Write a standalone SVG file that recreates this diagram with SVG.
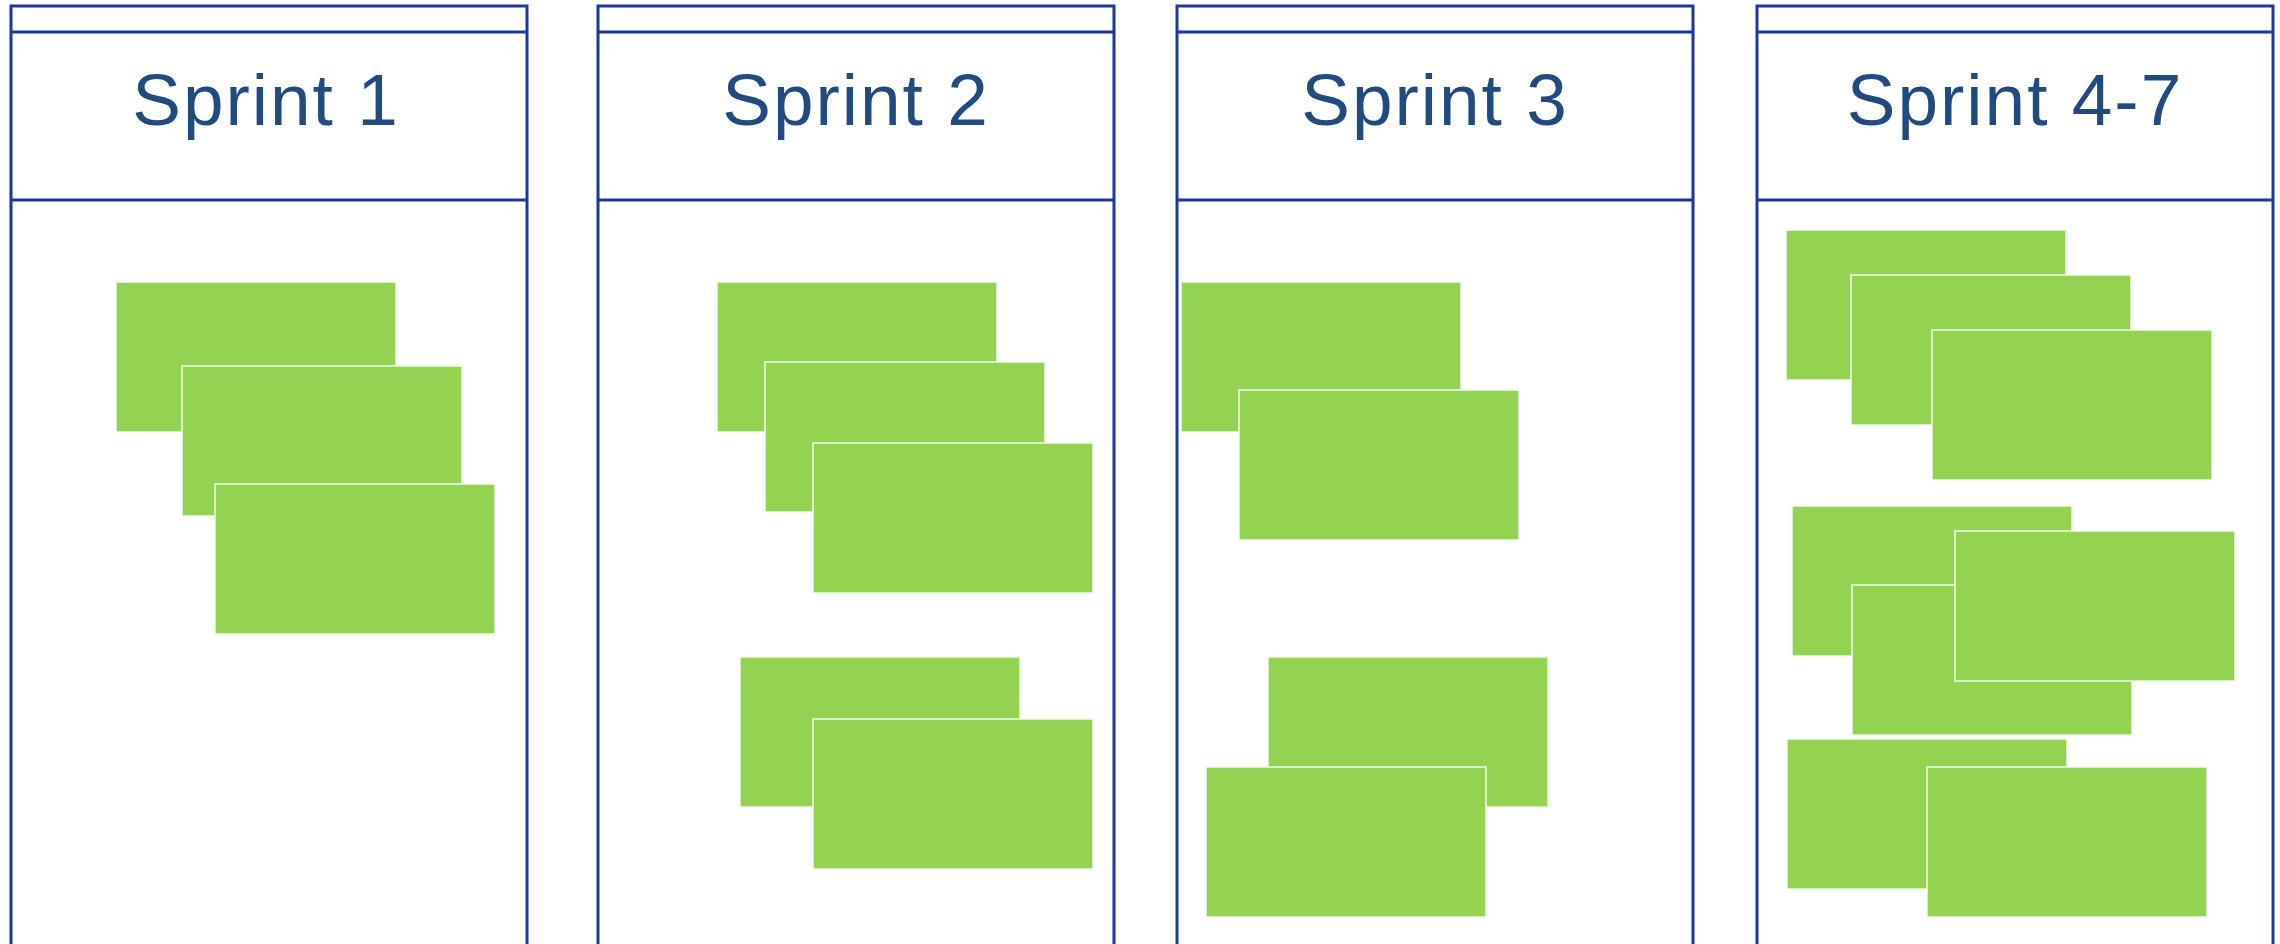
<svg xmlns="http://www.w3.org/2000/svg" width="2280" height="944" viewBox="0 0 2280 944">
<style>
.col{fill:none;stroke:#1d379e;stroke-width:3}
.title{font-family:"Liberation Sans",Arial,sans-serif;font-size:73px;fill:#214a7e;text-anchor:middle;letter-spacing:2px}
.note{fill:#94d352;stroke:#f2faea;stroke-width:1.5}
</style>
<rect width="2280" height="944" fill="#ffffff"/>
<g id="col1">
<path class="col" d="M11,948 V6 H527 V948 M11,32 H527 M11,200 H527"/>
<text class="title" x="266" y="125">Sprint 1</text>
</g>
<g id="col2">
<path class="col" d="M598,948 V6 H1114 V948 M598,32 H1114 M598,200 H1114"/>
<text class="title" x="856" y="125">Sprint 2</text>
</g>
<g id="col3">
<path class="col" d="M1177,948 V6 H1693 V948 M1177,32 H1693 M1177,200 H1693"/>
<text class="title" x="1435" y="125">Sprint 3</text>
</g>
<g id="col4">
<path class="col" d="M1757,948 V6 H2273 V948 M1757,32 H2273 M1757,200 H2273"/>
<text class="title" x="2015" y="125">Sprint 4-7</text>
</g>
<g id="notes1">
<rect class="note" x="116" y="282" width="280" height="150"/>
<rect class="note" x="182" y="366" width="280" height="150"/>
<rect class="note" x="215" y="484" width="280" height="150"/>
</g>
<g id="notes2">
<rect class="note" x="717" y="282" width="280" height="150"/>
<rect class="note" x="765" y="362" width="280" height="150"/>
<rect class="note" x="813" y="443" width="280" height="150"/>
<rect class="note" x="740" y="657" width="280" height="150"/>
<rect class="note" x="813" y="719" width="280" height="150"/>
</g>
<g id="notes3">
<rect class="note" x="1181" y="282" width="280" height="150"/>
<rect class="note" x="1239" y="390" width="280" height="150"/>
<rect class="note" x="1268" y="657" width="280" height="150"/>
<rect class="note" x="1206" y="767" width="280" height="150"/>
</g>
<g id="notes4">
<rect class="note" x="1786" y="230" width="280" height="150"/>
<rect class="note" x="1851" y="275" width="280" height="150"/>
<rect class="note" x="1932" y="330" width="280" height="150"/>
<rect class="note" x="1792" y="506" width="280" height="150"/>
<rect class="note" x="1852" y="585" width="280" height="150"/>
<rect class="note" x="1955" y="531" width="280" height="150"/>
<rect class="note" x="1787" y="739" width="280" height="150"/>
<rect class="note" x="1927" y="767" width="280" height="150"/>
</g>
<g id="connectors"></g>
</svg>
